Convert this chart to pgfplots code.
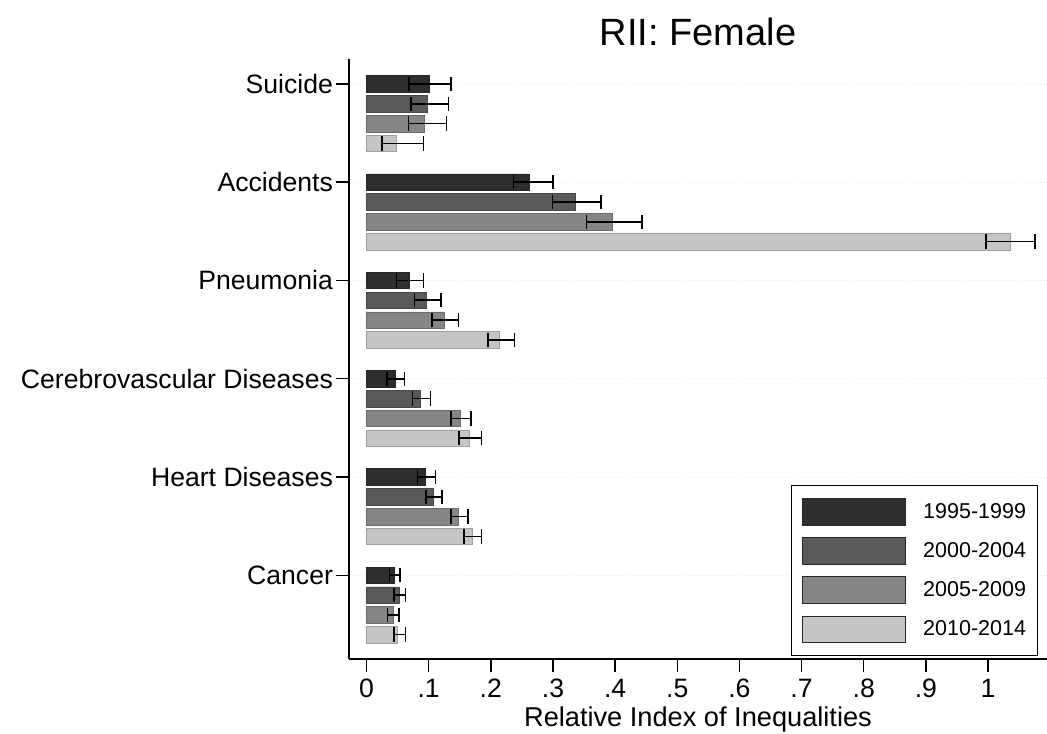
\documentclass[border=0pt]{standalone}
\usepackage{pgfplots}
\pgfplotsset{compat=1.18}
\usepackage{fontspec}
\setmainfont{Liberation Sans}

\definecolor{c95}{HTML}{2E2E2E}
\definecolor{c00}{HTML}{5A5A5A}
\definecolor{c05}{HTML}{868686}
\definecolor{c10}{HTML}{C6C6C6}

\pgfplotsset{
  eb/.style={error bars/.cd, x dir=both, x explicit, error mark=|,
    error mark options={black, mark size=3.6pt, line width=0.8pt},
    error bar style={black, line width=0.8pt}},
}

\begin{document}
\begin{tikzpicture}
\useasboundingbox (0,0) rectangle (523.5pt,366.5pt);
\begin{axis}[
  at={(174.5pt,37pt)}, anchor=south west,
  scale only axis, width=349pt, height=300pt,
  xbar, bar width=8.25pt,
  xmin=-0.02816, xmax=1.0949,
  ymin=-0.852, ymax=5.254,
  axis x line*=bottom, axis y line*=left,
  axis line style={line width=0.75pt, black},
  tick align=outside, major tick length=6.5pt,
  tick style={line width=0.75pt, black},
  xtick={0,0.1,0.2,0.3,0.4,0.5,0.6,0.7,0.8,0.9,1},
  xticklabels={0,.1,.2,.3,.4,.5,.6,.7,.8,.9,1},
  ytick={0,1,2,3,4,5},
  yticklabels={Cancer,Heart Diseases,Cerebrovascular Diseases,Pneumonia,Accidents,Suicide},
  ticklabel style={font=\fontsize{13.3}{16}\selectfont},
  yticklabel style={xshift=2pt},
  ymajorgrids, major grid style={gray!15, densely dotted},
  title={RII: Female},
  title style={font=\fontsize{19}{22}\selectfont, at={(axis description cs:0.5,1.0022)}, anchor=base, inner sep=0pt},
  xlabel={Relative Index of Inequalities},
  xlabel style={font=\fontsize{13.6}{16}\selectfont, at={(axis description cs:0.5,-0.1117)}, anchor=base},
  legend image code/.code={\draw[#1, draw=black!85, line width=0.4pt] (0pt,-6.675pt) rectangle (51.5pt,6.675pt);},
  legend cell align=left,
  legend style={at={(0.987,0.2895)}, anchor=north east, draw=black, line width=0.6pt,
    inner xsep=5.65pt, inner ysep=6.2pt, row sep=5.8pt,
    font=\fontsize{10.75}{13}\selectfont,
    nodes={inner sep=0pt},
    /tikz/every odd column/.append style={column sep=8.5pt}},
]
% 1995-1999
\addplot[fill=c95, draw=c95!80!black, line width=0.3pt, bar shift=0pt, eb] coordinates {
  (0.0453,0) += (0.009,0) -= (0.008,0)
  (0.0952,1) += (0.0155,0) -= (0.013,0)
  (0.0459,2) += (0.0155,0) -= (0.013,0)
  (0.0684,3) += (0.0236,0) -= (0.020,0)
  (0.262,4) += (0.038,0) -= (0.0255,0)
  (0.101,5) += (0.035,0) -= (0.033,0)
};
% 2000-2004
\addplot[fill=c00, draw=c00!80!black, line width=0.3pt, bar shift=-9.9pt, eb] coordinates {
  (0.0528,0) += (0.0102,0) -= (0.009,0)
  (0.1075,1) += (0.014,0) -= (0.0113,0)
  (0.0872,2) += (0.0155,0) -= (0.0135,0)
  (0.0963,3) += (0.0237,0) -= (0.0188,0)
  (0.3365,4) += (0.041,0) -= (0.0375,0)
  (0.0973,5) += (0.0347,0) -= (0.0257,0)
};
% 2005-2009
\addplot[fill=c05, draw=c05!80!black, line width=0.3pt, bar shift=-19.8pt, eb] coordinates {
  (0.043,0) += (0.0093,0) -= (0.009,0)
  (0.1477,1) += (0.0156,0) -= (0.0117,0)
  (0.1516,2) += (0.0164,0) -= (0.0156,0)
  (0.1247,3) += (0.0233,0) -= (0.0197,0)
  (0.396,4) += (0.047,0) -= (0.042,0)
  (0.0936,5) += (0.0354,0) -= (0.0263,0)
};
% 2010-2014
\addplot[fill=c10, draw=c10!80!black, line width=0.3pt, bar shift=-29.7pt, eb] coordinates {
  (0.050,0) += (0.0125,0) -= (0.006,0)
  (0.1698,1) += (0.0155,0) -= (0.0134,0)
  (0.166,2) += (0.0187,0) -= (0.017,0)
  (0.2143,3) += (0.0237,0) -= (0.0193,0)
  (1.0354,4) += (0.0402,0) -= (0.0386,0)
  (0.0475,5) += (0.0445,0) -= (0.0225,0)
};
\legend{1995-1999,2000-2004,2005-2009,2010-2014}
\end{axis}
\end{tikzpicture}
\end{document}
